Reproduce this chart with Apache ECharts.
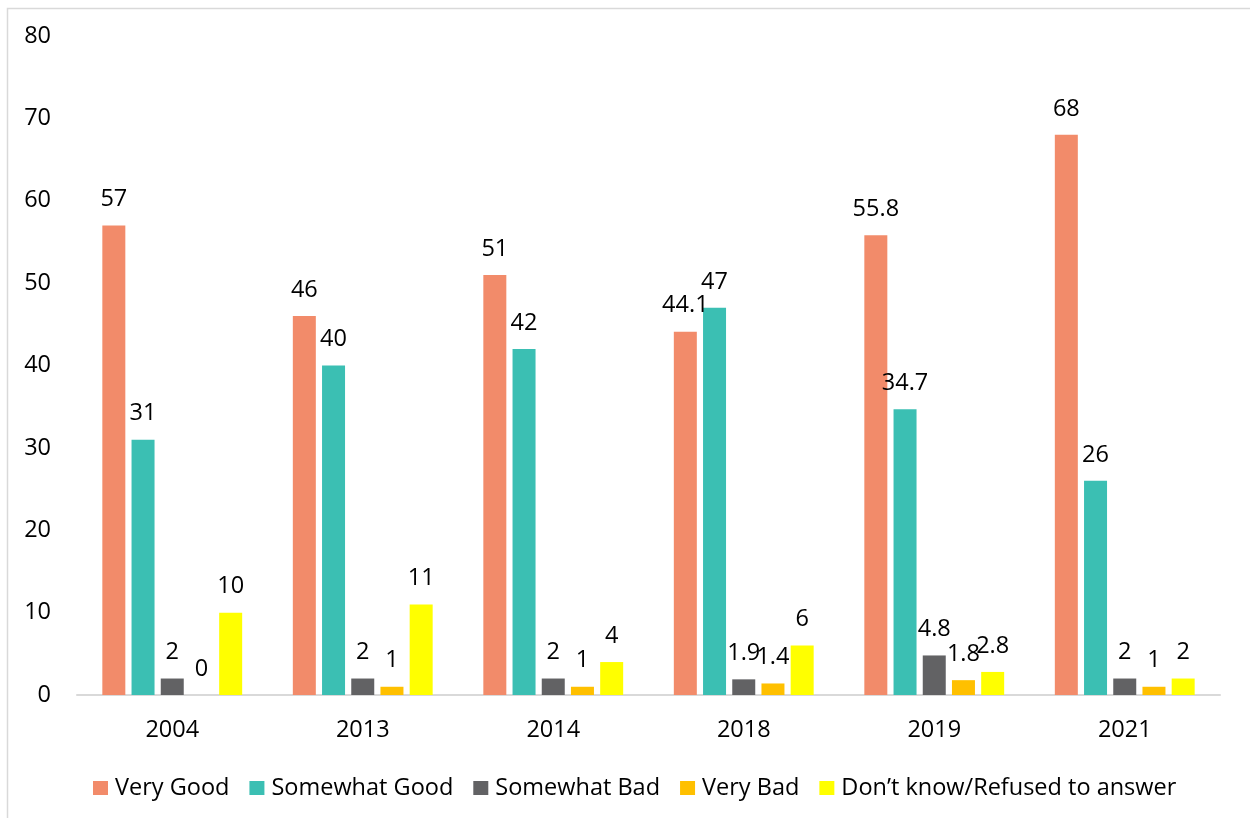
<!DOCTYPE html>
<html>
<head>
<meta charset="utf-8">
<script src="https://cdn.jsdelivr.net/npm/echarts@6/dist/echarts.min.js"></script>
<style>html,body{margin:0;padding:0;background:#fff;}#c{width:1250px;height:818px;}</style>
</head>
<body>
<div id="c"></div>
<script>
const categories = ['2004', '2013', '2014', '2018', '2019', '2021'];
const seriesNames = ['Very Good', 'Somewhat Good', 'Somewhat Bad', 'Very Bad', 'Don\u2019t know/Refused to answer'];
const veryGood = [57, 46, 51, 44.1, 55.8, 68];
const somewhatGood = [31, 40, 42, 47, 34.7, 26];
const somewhatBad = [2, 2, 2, 1.9, 4.8, 2];
const veryBad = [0, 1, 1, 1.4, 1.8, 1];
const dontKnow = [10, 11, 4, 6, 2.8, 2];
const yTicks = [0, 10, 20, 30, 40, 50, 60, 70, 80];

const colors = ['#F28B6A', '#3BBFB3', '#626264', '#FFC000', '#FFFF00'];
const allData = [veryGood, somewhatGood, somewhatBad, veryBad, dontKnow];
const FONT = 'Open Sans';
const FS = 23.5;

const chart = echarts.init(document.getElementById('c'), null, {renderer: 'canvas'});
chart.setOption({
  animation: false,
  backgroundColor: '#fff',
  textStyle: {fontFamily: FONT},
  graphic: [{
    type: 'rect', shape: {x: 7.5, y: 8.5, width: 1260, height: 830},
    style: {fill: 'none', stroke: '#d9d9d9', lineWidth: 1.5}, silent: true, z: -10
  }],
  grid: {left: 77, right: 30, top: 36, bottom: 123, containLabel: false},
  legend: {
    bottom: 13, left: 88, itemWidth: 15, itemHeight: 14, itemGap: 20,
    icon: 'rect',
    textStyle: {fontFamily: FONT, fontSize: FS, color: '#000', padding: [0, 0, 0, 2]},
    data: seriesNames
  },
  xAxis: {
    type: 'category', data: categories,
    axisLine: {lineStyle: {color: '#d9d9d9', width: 2}},
    axisTick: {show: false},
    axisLabel: {fontFamily: FONT, fontSize: FS, color: '#000', margin: 23}
  },
  yAxis: {
    type: 'value', min: 0, max: 80, interval: 10,
    axisLine: {show: false}, axisTick: {show: false},
    splitLine: {show: false},
    axisLabel: {fontFamily: FONT, fontSize: FS, color: '#000', margin: 26,
      formatter: v => yTicks.includes(v) ? String(v) : ''}
  },
  series: seriesNames.map((name, i) => ({
    name, type: 'bar', data: allData[i],
    barWidth: 23, barGap: '27%',
    itemStyle: {color: colors[i]},
    label: {show: true, position: 'top', distance: 14, fontFamily: FONT, fontSize: FS, color: '#000'}
  }))
});
</script>
</body>
</html>
